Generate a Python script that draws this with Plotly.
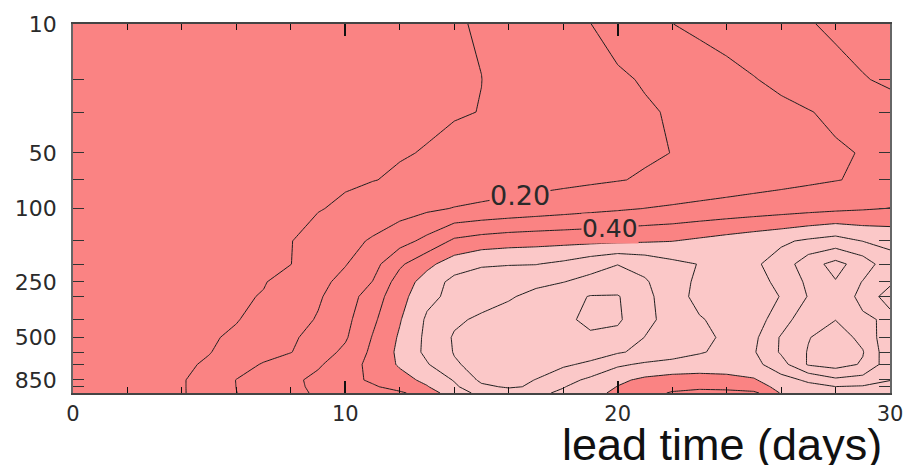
import numpy as np
import plotly.graph_objects as go

# ---------------- data ----------------
lead_days = [0, 1, 2, 3, 4, 5, 6, 7, 8, 9, 10, 11, 12, 13, 14, 15,
             16, 17, 18, 19, 20, 21, 22, 23, 24, 25, 26, 27, 28, 29, 30]
pressure_levels = [10, 20, 30, 50, 70, 100, 150, 200, 250, 300, 400, 500, 600, 700, 850, 925, 1000]
label_levels = [10, 50, 100, 250, 500, 850]
label_text = ["10", "50", "100", "250", "500", "850"]
other_levels = [20, 30, 70, 150, 200, 300, 400, 600, 700, 925, 1000]

z_10 = [0.02,0.026,0.031,0.037,0.042,0.048,0.053,0.059,0.064,0.07,0.075,0.081,0.086,0.092,0.097,0.103,0.133,0.156,0.178,0.199,0.233,0.267,0.299,0.319,0.337,0.356,0.374,0.393,0.418,0.448,0.478]
z_20 = [0.02,0.025,0.031,0.036,0.041,0.047,0.052,0.057,0.063,0.068,0.073,0.079,0.084,0.089,0.094,0.0997,0.117,0.134,0.152,0.17,0.188,0.207,0.229,0.251,0.273,0.296,0.32,0.344,0.368,0.393,0.418]
z_30 = [0.02,0.025,0.031,0.036,0.042,0.047,0.052,0.058,0.063,0.069,0.074,0.079,0.085,0.09,0.096,0.101,0.118,0.132,0.147,0.162,0.176,0.191,0.207,0.225,0.243,0.261,0.279,0.296,0.316,0.336,0.356]
z_50 = [0.02,0.026,0.033,0.039,0.045,0.051,0.058,0.064,0.07,0.077,0.083,0.089,0.096,0.103,0.114,0.125,0.136,0.146,0.157,0.168,0.179,0.19,0.201,0.215,0.23,0.245,0.26,0.275,0.29,0.304,0.325]
z_70 = [0.02,0.027,0.034,0.041,0.048,0.055,0.062,0.07,0.077,0.084,0.091,0.098,0.108,0.119,0.13,0.141,0.152,0.163,0.174,0.185,0.196,0.208,0.221,0.233,0.246,0.259,0.271,0.284,0.297,0.31,0.325]
z_100 = [0.02,0.028,0.037,0.045,0.054,0.062,0.071,0.079,0.087,0.096,0.112,0.136,0.16,0.183,0.204,0.218,0.232,0.246,0.26,0.274,0.287,0.301,0.312,0.324,0.335,0.346,0.357,0.368,0.379,0.391,0.402]
z_150 = [0.02,0.03,0.039,0.049,0.059,0.068,0.078,0.088,0.098,0.129,0.169,0.211,0.263,0.327,0.418,0.445,0.46,0.467,0.472,0.477,0.483,0.49,0.498,0.518,0.54,0.562,0.585,0.615,0.64,0.598,0.578]
z_200 = [0.02,0.03,0.04,0.05,0.06,0.069,0.079,0.089,0.099,0.145,0.195,0.264,0.383,0.475,0.55,0.59,0.595,0.597,0.62,0.66,0.698,0.67,0.625,0.597,0.575,0.585,0.64,0.76,0.83,0.755,0.635]
z_250 = [0.02,0.031,0.042,0.052,0.063,0.074,0.085,0.096,0.127,0.173,0.229,0.302,0.445,0.542,0.63,0.645,0.66,0.678,0.698,0.73,0.74,0.71,0.645,0.58,0.56,0.57,0.62,0.72,0.795,0.695,0.695]
z_300 = [0.02,0.032,0.043,0.055,0.066,0.078,0.09,0.104,0.147,0.189,0.251,0.35,0.464,0.575,0.626,0.658,0.69,0.727,0.765,0.805,0.807,0.727,0.646,0.57,0.56,0.575,0.602,0.705,0.74,0.683,0.712]
z_400 = [0.02,0.033,0.045,0.058,0.071,0.083,0.096,0.127,0.165,0.207,0.273,0.38,0.493,0.614,0.683,0.717,0.74,0.763,0.786,0.815,0.815,0.727,0.663,0.608,0.57,0.56,0.645,0.78,0.798,0.71,0.69]
z_500 = [0.02,0.034,0.048,0.063,0.077,0.091,0.113,0.149,0.186,0.233,0.289,0.405,0.512,0.622,0.71,0.735,0.755,0.77,0.785,0.79,0.77,0.698,0.66,0.623,0.585,0.578,0.71,0.795,0.85,0.773,0.63]
z_600 = [0.02,0.035,0.051,0.066,0.082,0.097,0.129,0.164,0.197,0.255,0.32,0.42,0.522,0.623,0.705,0.725,0.745,0.755,0.755,0.745,0.71,0.676,0.641,0.607,0.58,0.591,0.712,0.806,0.86,0.806,0.63]
z_700 = [0.02,0.037,0.053,0.07,0.087,0.11,0.16,0.208,0.248,0.288,0.352,0.43,0.512,0.592,0.69,0.73,0.74,0.735,0.715,0.681,0.616,0.585,0.57,0.56,0.56,0.57,0.66,0.81,0.84,0.79,0.64]
z_850 = [0.02,0.038,0.057,0.075,0.093,0.14,0.202,0.241,0.28,0.323,0.368,0.415,0.465,0.523,0.607,0.72,0.725,0.698,0.635,0.58,0.52,0.48,0.46,0.455,0.465,0.49,0.565,0.615,0.68,0.66,0.602]
z_925 = [0.02,0.038,0.057,0.075,0.093,0.14,0.201,0.24,0.28,0.318,0.353,0.388,0.437,0.494,0.582,0.68,0.712,0.688,0.605,0.553,0.497,0.46,0.43,0.42,0.43,0.47,0.52,0.575,0.598,0.59,0.58]
z_1000 = [0.02,0.038,0.057,0.075,0.093,0.139,0.199,0.238,0.278,0.311,0.336,0.361,0.385,0.447,0.558,0.625,0.65,0.62,0.584,0.532,0.479,0.436,0.391,0.372,0.37,0.375,0.507,0.545,0.56,0.56,0.555]

Z = [z_10, z_20, z_30, z_50, z_70, z_100, z_150, z_200, z_250, z_300,
     z_400, z_500, z_600, z_700, z_850, z_925, z_1000]

SALMON = "#FA8383"
PINK = "#FBC8C8"
TXT = "#2a2a2a"

y_log = np.log10(pressure_levels)

fig = go.Figure()
fig.add_trace(go.Contour(
    x=lead_days, y=y_log, z=Z,
    colorscale=[[0, SALMON], [0.56, SALMON], [0.56, PINK], [1, PINK]],
    showscale=False,
    autocontour=False,
    contours=dict(start=0.1, end=0.8, size=0.1, coloring="fill", showlabels=False),
    line=dict(color="#1e1e1e", width=1, smoothing=0),
    hoverinfo="skip",
))

# contour labels (only two are labelled in the original)
fig.add_annotation(x=16.4, y=np.log10(85), xref="x", yref="y", text="0.20", showarrow=False,
                   font=dict(family="DejaVu Sans", size=27, color=TXT), bgcolor=SALMON, borderpad=0)
fig.add_annotation(x=19.7, y=np.log10(128), xref="x", yref="y", text="0.40", showarrow=False,
                   font=dict(family="DejaVu Sans", size=25, color=TXT), bgcolor=SALMON, borderpad=0)

# x-axis title (offset to the right, partly cut at the bottom as in the original)
fig.add_annotation(x=0.7945, y=-0.14, xref="paper", yref="paper", text="lead time (days)",
                   showarrow=False, xanchor="center", yanchor="middle",
                   font=dict(family="Liberation Sans", size=45, color="#111"))
# panel label, mostly above the visible area
fig.add_annotation(x=0.045, y=1.11, xref="paper", yref="paper", text="(a)",
                   showarrow=False, xanchor="center", yanchor="middle",
                   font=dict(family="DejaVu Sans", size=28, color=TXT))

fig.update_xaxes(
    range=[0, 30], tickmode="array", tickvals=[0, 10, 20, 30],
    ticks="inside", ticklen=12, tickwidth=1.5, tickcolor="#111",
    minor=dict(dtick=2, tick0=0, ticks="inside", ticklen=6, tickwidth=1.2, tickcolor="#111"),
    showline=True, linecolor="#444", linewidth=1.5, mirror="ticks",
    showgrid=False, zeroline=False,
    tickfont=dict(family="DejaVu Sans", size=21, color=TXT),
    ticklabelstandoff=1,
)
fig.update_yaxes(
    range=[3, 1], tickmode="array",
    tickvals=list(np.log10(label_levels)), ticktext=label_text,
    ticks="inside", ticklen=11, tickwidth=1.3, tickcolor="#333",
    minor=dict(tickmode="array", tickvals=list(np.log10(other_levels)),
               ticks="inside", ticklen=11, tickwidth=1.3, tickcolor="#333"),
    showline=True, linecolor="#666", linewidth=1.5, mirror="ticks",
    showgrid=False, zeroline=False,
    tickfont=dict(family="DejaVu Sans", size=22, color=TXT),
    ticklabelstandoff=10,
)

fig.update_layout(
    width=915, height=465,
    margin=dict(l=73, r=17, t=21, b=72),
    paper_bgcolor="white", plot_bgcolor="white",
    showlegend=False,
)

fig.write_html("out.html")
